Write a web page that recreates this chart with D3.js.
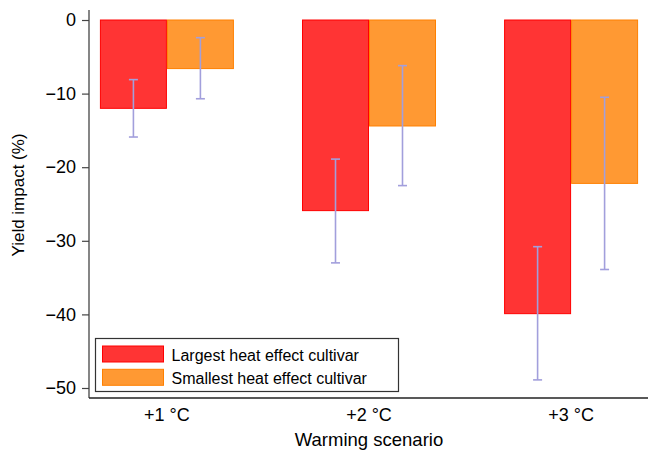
<!DOCTYPE html>
<html>
<head>
<meta charset="utf-8">
<script src="https://cdn.jsdelivr.net/npm/d3@7"></script>
<style>
  html, body { margin: 0; padding: 0; background: #fff; }
  svg { display: block; font-family: "Liberation Sans", Arial, sans-serif; }
</style>
</head>
<body>
<svg id="chart" width="648" height="452"></svg>
<script>
// ---- Data ----
const categories = ["+1 °C", "+2 °C", "+3 °C"];
const seriesNames = ["Largest heat effect cultivar", "Smallest heat effect cultivar"];
const largestValues = [-12.0, -25.9, -39.9];
const largestLow = [-15.9, -33.0, -48.9];
const largestHigh = [-8.1, -18.9, -30.8];
const smallestValues = [-6.6, -14.4, -22.2];
const smallestLow = [-10.7, -22.5, -33.9];
const smallestHigh = [-2.4, -6.2, -10.5];
const yTicks = [0, -10, -20, -30, -40, -50];

const fills = ["#ff3434", "#ff9933"];
const strokes = ["#ff0000", "#ff8000"];

const svg = d3.select("#chart");

const y = d3.scaleLinear().domain([-51.36, 1.36]).range([398, 10]);
const x = d3.scaleBand().domain(categories).range([89, 649])
  .paddingInner(0.337).paddingOuter(0.054);
const xs = d3.scaleBand().domain([0, 1]).range([0, x.bandwidth()]);

const rows = [];
categories.forEach((c, i) => {
  rows.push({cat: c, s: 0, v: largestValues[i], lo: largestLow[i], hi: largestHigh[i]});
  rows.push({cat: c, s: 1, v: smallestValues[i], lo: smallestLow[i], hi: smallestHigh[i]});
});

// bars
svg.append("g").selectAll("rect").data(rows).join("rect")
  .attr("x", d => x(d.cat) + xs(d.s) + 0.5)
  .attr("y", d => y(0))
  .attr("width", xs.bandwidth() - 1)
  .attr("height", d => y(d.v) - y(0))
  .attr("fill", d => fills[d.s])
  .attr("stroke", d => strokes[d.s])
  .attr("stroke-width", 1);

// error bars
const eb = svg.append("g").attr("stroke", "#a29fdc").attr("stroke-width", 1.6).attr("fill", "none");
rows.forEach(d => {
  const cx = x(d.cat) + xs(d.s) + xs.bandwidth() / 2;
  eb.append("line").attr("x1", cx).attr("x2", cx).attr("y1", y(d.hi)).attr("y2", y(d.lo));
  eb.append("line").attr("x1", cx - 4.5).attr("x2", cx + 4.5).attr("y1", y(d.hi)).attr("y2", y(d.hi));
  eb.append("line").attr("x1", cx - 4.5).attr("x2", cx + 4.5).attr("y1", y(d.lo)).attr("y2", y(d.lo));
});

// y axis
const yAxis = d3.axisLeft(y).tickValues(yTicks).tickSize(7).tickPadding(6)
  .tickFormat(d => d3.format("d")(d).replace("-", "\u2212"));
const gy = svg.append("g").attr("transform", "translate(89,0)").call(yAxis);
gy.select(".domain").attr("d", `M0,${y.range()[1]}V${y.range()[0]}`).attr("stroke", "#444").attr("stroke-width", 1.3);
gy.selectAll(".tick line").attr("stroke", "#444").attr("stroke-width", 1.2);
gy.selectAll(".tick text").attr("font-size", 18).attr("fill", "#000").attr("font-family", "Liberation Sans, Arial, sans-serif");

// x axis
const xAxis = d3.axisBottom(x).tickSize(0).tickPadding(10);
const gx = svg.append("g").attr("transform", "translate(0,398)").call(xAxis);
gx.select(".domain").attr("d", "M89,0H648").attr("stroke", "#222").attr("stroke-width", 1.5);
gx.selectAll(".tick text").attr("font-size", 18).attr("fill", "#000").attr("font-family", "Liberation Sans, Arial, sans-serif");

// axis titles
svg.append("text").attr("x", 369).attr("y", 446).attr("text-anchor", "middle")
  .attr("font-size", 18.5).text("Warming scenario");
svg.append("text").attr("transform", "translate(24,195) rotate(-90)").attr("text-anchor", "middle")
  .attr("font-size", 17).text("Yield impact (%)");

// legend
const lg = svg.append("g");
lg.append("rect").attr("x", 95.5).attr("y", 338.5).attr("width", 303).attr("height", 53)
  .attr("fill", "#fff").attr("stroke", "#333").attr("stroke-width", 1.2);
seriesNames.forEach((n, i) => {
  lg.append("rect").attr("x", 102.5).attr("y", 346 + i * 23.3).attr("width", 61).attr("height", 16)
    .attr("fill", fills[i]).attr("stroke", strokes[i]).attr("stroke-width", 1);
  lg.append("text").attr("x", 171.5).attr("y", 360.5 + i * 23.3).attr("font-size", 16).text(n);
});
</script>
</body>
</html>
